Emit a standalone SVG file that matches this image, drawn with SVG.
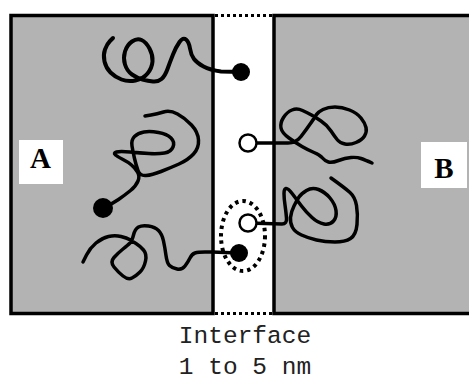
<svg xmlns="http://www.w3.org/2000/svg" width="469" height="383" viewBox="0 0 469 383">
<style>
.phase{fill:#b3b3b3;stroke:#000;stroke-width:3.5}
.dot{fill:none;stroke:#000;stroke-width:3;stroke-dasharray:3 3}
.chain{fill:none;stroke:#000;stroke-width:3.5;stroke-linecap:round;stroke-linejoin:round}
.bead{fill:#000}
.open{fill:#fff;stroke:#000;stroke-width:2.5}
.lbox{fill:#fff}
.lbl{font-family:"Liberation Serif","Times New Roman",serif;font-weight:bold;font-size:29px;text-anchor:middle;fill:#000}
.cap{font-family:"Liberation Mono","DejaVu Sans Mono",monospace;font-size:24.5px;text-anchor:middle;fill:#222}
</style>
<rect width="469" height="383" fill="#fff"/>
<g id="phaseA">
<rect class="phase" x="11" y="15.5" width="202" height="298"/>
<rect class="lbox" x="19" y="140" width="44" height="44"/>
<text class="lbl" x="40.5" y="168">A</text>
</g>
<g id="phaseB">
<rect class="phase" x="274" y="15.5" width="210" height="298"/>
<rect class="lbox" x="421" y="142" width="46" height="46"/>
<text class="lbl" x="444" y="178">B</text>
</g>
<g id="interface">
<line class="dot" x1="215" y1="15.5" x2="273" y2="15.5"/>
<line class="dot" x1="215" y1="313.5" x2="273" y2="313.5"/>
</g>
<g id="connectors">
<path id="chain1" class="chain" style="stroke-width:4" d="M113,38 L110,41 Q107,44 105,49.5 Q103,55 104.5,61.5 Q106,68 110.5,72.5 Q115,77 121.5,79.5 Q128,82 135.5,80.5 Q143,79 147.5,73.5 Q152,68 152.5,61.5 Q153,55 149.5,48.5 Q146,42 141.5,40 Q137,38 132,41.5 Q127,45 125,51.5 Q123,58 125,64.5 Q127,71 132,74.5 Q137,78 142.5,79.5 Q148,81 153,81.5 Q158,82 161.5,79 Q165,76 167.5,69 Q170,62 173,54.5 Q176,47 179.5,42 Q183,37 186,39.5 Q189,42 190,48.5 Q191,55 194,59 Q197,63 203.5,66.5 Q210,70 221,71.5 L241,72"/>
<path id="chain2" class="chain" d="M145,116 L151,115 Q157,114 163.5,112 Q170,110 177.5,114 Q185,118 191.5,125 Q198,132 198.5,140 Q199,148 193.5,154 Q188,160 179,164 Q170,168 161,171.5 Q152,175 146,175.5 Q140,176 138,170.5 Q136,165 134.5,158.5 Q133,152 132,146 Q131,140 134.5,136.5 Q138,133 144,132 Q150,131 158.5,132.5 Q167,134 171,138 Q175,142 173,147 Q171,152 164.5,153 Q158,154 149,153.5 Q140,153 130,152 Q120,151 116.5,152 Q113,153 115.5,155 Q118,157 123,159.5 Q128,162 131.5,165 Q135,168 137.5,172 Q140,176 138,181 Q136,186 130.5,190.5 Q125,195 118.5,199.5 Q112,204 103,208"/>
<path id="chain3" class="chain" d="M83,262 L86.5,255 Q90,248 96,243 Q102,238 108.5,236.5 Q115,235 121,236.5 Q127,238 129.5,239.5 Q132,241 136,243.5 Q140,246 143.5,250 Q147,254 145.5,261 Q144,268 140,272 Q136,276 132,278 Q128,280 123,276 Q118,272 114,267 Q110,262 114,257.5 Q118,253 123,249 Q128,245 130,243 Q132,241 133.5,235 Q135,229 138.5,227 Q142,225 148.5,226 Q155,227 158.5,230.5 Q162,234 163.5,241 Q165,248 166,255.5 Q167,263 169.5,265.5 Q172,268 177,269 Q182,270 185,266 Q188,262 190,258 Q192,254 195,253 Q198,252 205,252 L212,252 L238,253"/>
<path id="chain4" class="chain" d="M248,223 L282,224 Q287,224 286.5,218 Q286,212 285,205 Q284,198 284,193.5 Q284,189 286,188.5 Q288,188 292.5,194 Q297,200 301.5,206 Q306,212 312,217.5 Q318,223 324,224 Q330,225 333.5,221 Q337,217 336,210.5 Q335,204 330,198 Q325,192 318.5,189.5 Q312,187 306.5,190.5 Q301,194 299,197 Q297,200 294,206 Q291,212 290.5,217.5 Q290,223 292.5,227.5 Q295,232 301.5,235 Q308,238 316.5,240 Q325,242 335,242 Q345,242 350.5,238.5 Q356,235 357,224.5 Q358,214 356.5,205.5 Q355,197 350,192.5 Q345,188 331,178"/>
<path id="chain5" class="chain" d="M248,143 L288,143 Q296,143 301,136.5 Q306,130 310.5,123.5 Q315,117 316.5,114.5 Q318,112 323,109.5 Q328,107 335,107 Q342,107 349.5,110 Q357,113 361,118 Q365,123 366,127.5 Q367,132 364.5,136 Q362,140 356,142.5 Q350,145 345,144 Q340,143 337.5,140 Q335,137 331,131 Q327,125 321,121 Q315,117 311.5,115 Q308,113 302.5,110.5 Q297,108 292,110 Q287,112 283.5,117.5 Q280,123 281,128 Q282,133 289,138 Q296,143 302,146.5 Q308,150 314,152.5 Q320,155 322.5,158 Q325,161 328.5,162 Q332,163 338.5,160.5 Q345,158 351,157.5 Q357,157 361,158.5 Q365,160 372,163"/>
</g>
<g id="ends">
<circle class="bead" cx="241" cy="72" r="9"/>
<circle class="bead" cx="103" cy="208" r="10"/>
<circle class="bead" cx="239" cy="253" r="9"/>
<circle class="open" cx="248" cy="143" r="8.5"/>
<circle class="open" cx="248" cy="223" r="8.5"/>
</g>
<g id="pair">
<ellipse cx="243" cy="236" rx="22" ry="35" fill="none" stroke="#000" stroke-width="4" stroke-dasharray="3.5 4"/>
</g>
<g id="caption">
<text class="cap" x="245" y="343">Interface</text>
<text class="cap" x="245" y="374">1 to 5 nm</text>
</g>
</svg>
